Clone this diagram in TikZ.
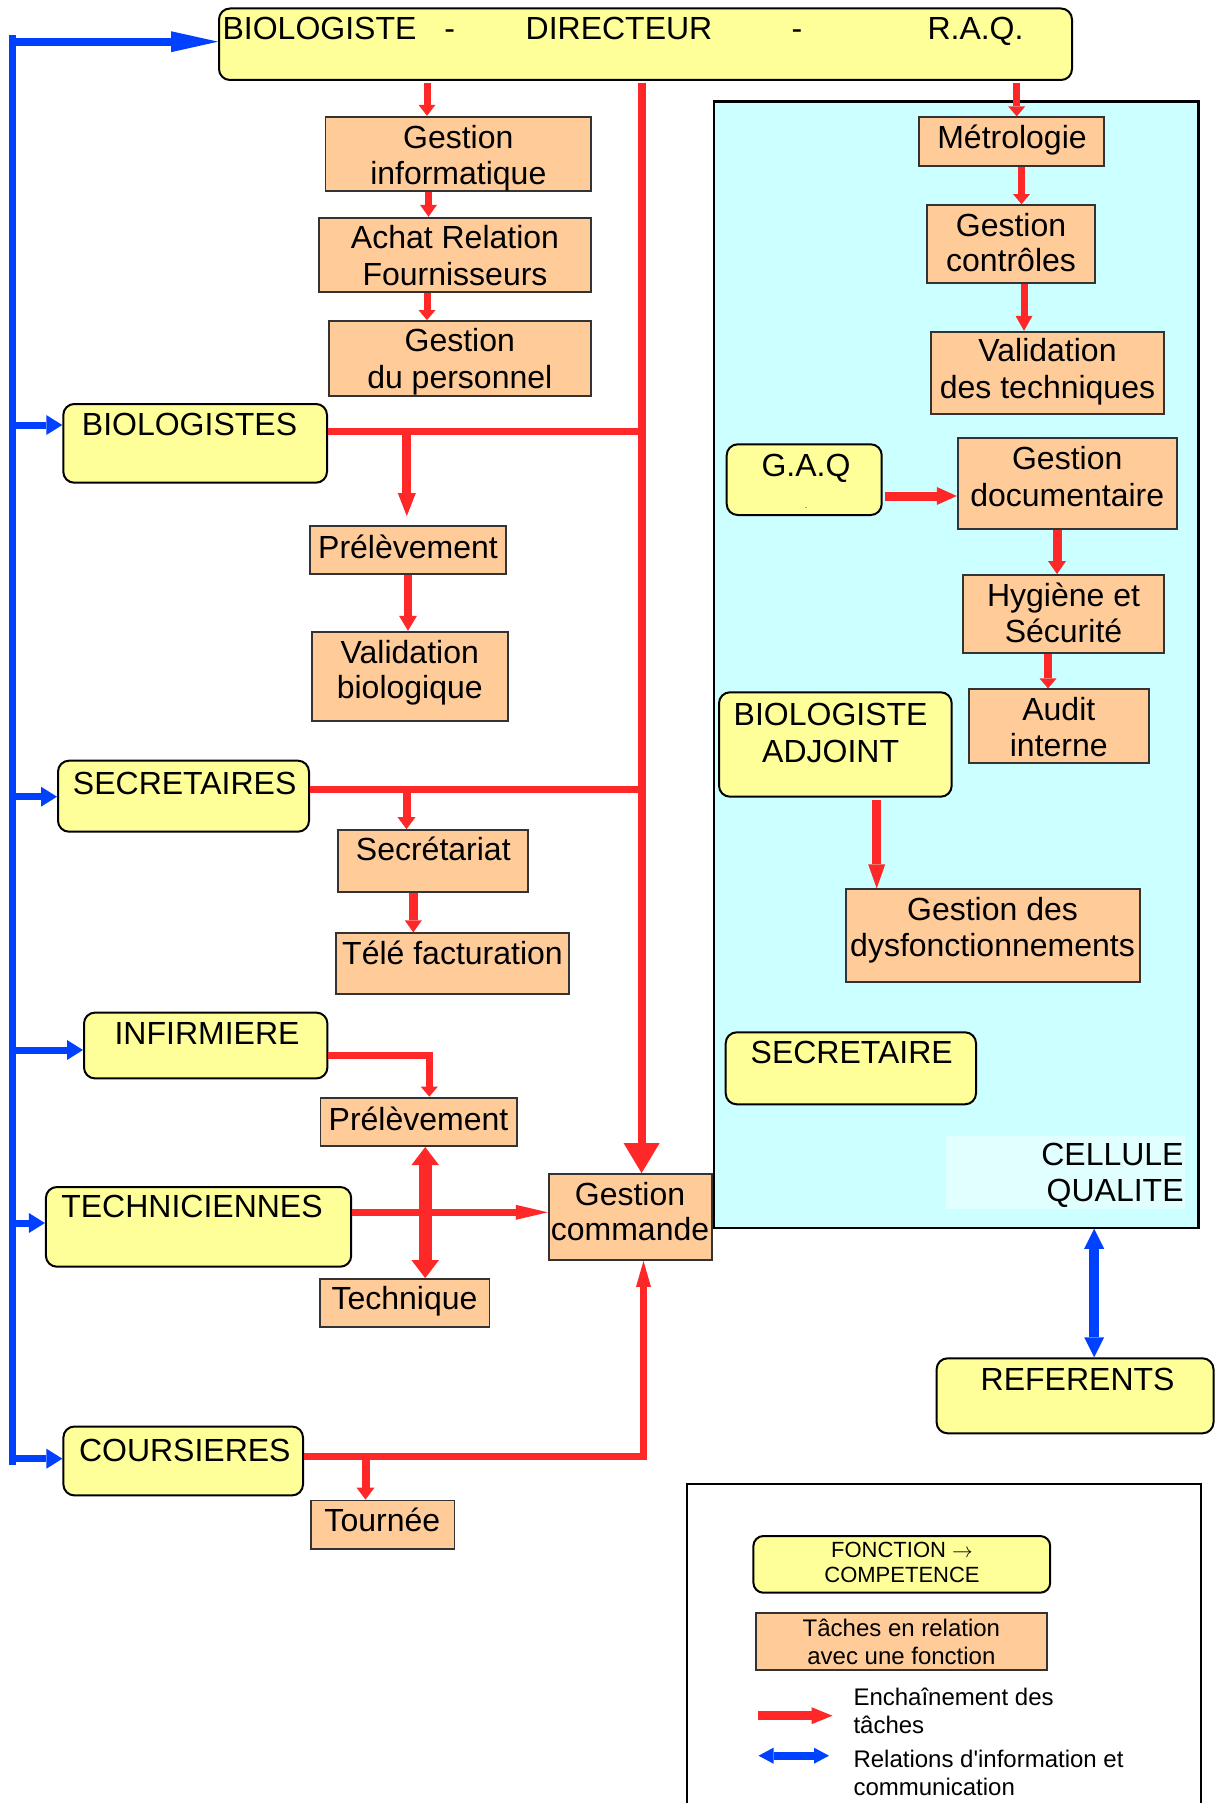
\documentclass[tikz,border=0pt]{standalone}
\usepackage{fontspec}
\setmainfont{Liberation Sans}
\usetikzlibrary{arrows.meta,fit}
\definecolor{yel}{RGB}{255,255,153}
\definecolor{ora}{RGB}{255,204,153}
\definecolor{cya}{RGB}{204,255,255}
\definecolor{cyl}{RGB}{226,255,255}
\definecolor{rd}{RGB}{255,40,40}
\definecolor{bl}{RGB}{0,64,255}
\newcommand\FontMain{\fontsize{32}{36.7}\selectfont}
\newcommand\FontLegY{\fontsize{22}{25}\selectfont}
\newcommand\FontLegO{\fontsize{24}{27.6}\selectfont}
\newcommand\FontLegT{\fontsize{24}{28}\selectfont}
\tikzset{
  ybox/.style={draw=black, line width=2pt, fill=yel, rounded corners=11pt, inner sep=0pt},
  obox/.style={draw=black!80, line width=1.8pt, fill=ora, inner sep=0pt},
  lab/.style={inner sep=0pt, outer sep=0pt, align=center, font=\FontMain, anchor=base},
  redln/.style={color=rd, line width=7pt},
  redar/.style 2 args={color=rd, line width=7pt, -{Triangle[width=#1,length=#2,line width=0pt]}},
  redbi/.style 2 args={color=rd, line width=7pt, {Triangle[width=#1,length=#2,line width=0pt]}-{Triangle[width=#1,length=#2,line width=0pt]}},
  bluar/.style 2 args={color=bl, line width=7pt, -{Triangle[width=#1,length=#2,line width=0pt]}},
  blubi/.style 2 args={color=bl, line width=7pt, {Triangle[width=#1,length=#2,line width=0pt]}-{Triangle[width=#1,length=#2,line width=0pt]}},
}
\begin{document}
\begin{tikzpicture}[x=1pt,y=-1pt]
\useasboundingbox (0,0) rectangle (1215,1803);
% quality cell background
\node[draw=black, line width=2.2pt, fill=cya, inner sep=0pt, fit={(714,101.5) (1198.5,1227.7)}] (cq) {};
\node[fill=cyl, inner sep=0pt, fit={(946,1136) (1185,1209.3)}] (cellbg) {};
% legend frame
\draw[line width=2pt] (686.8,1803) -- (686.8,1484) -- (1201.3,1484) -- (1201.3,1803);

% yellow boxes
\node[ybox, fit={(219,8.5) (1072,80)}] (top) {};
\node[ybox, fit={(63.3,404) (327,482.7)}] (bio) {};
\node[ybox, fit={(58,760.7) (309,831.7)}] (secs) {};
\node[ybox, fit={(84,1012.6) (327.4,1078.4)}] (inf) {};
\node[ybox, fit={(45.9,1187) (351.2,1266.7)}] (tech) {};
\node[ybox, fit={(63.4,1426.5) (303,1495.4)}] (cour) {};
\node[ybox, fit={(726.7,444.3) (881.7,515)}] (gaq) {};
\node[ybox, fit={(719,692.3) (951.7,796.7)}] (bioadj) {};
\node[ybox, fit={(725.7,1032.3) (976,1104.3)}] (secq) {};
\node[ybox, fit={(936.6,1358.3) (1213.5,1433.3)}] (ref) {};
\node[ybox, rounded corners=10pt, fit={(753.4,1536) (1050.2,1592.7)}] (lyel) {};

% orange boxes
\node[obox, fit={(325.5,116.7) (591,191)}] (gi) {};
\node[obox, fit={(319,217.7) (591,292.3)}] (achat) {};
\node[obox, fit={(328.6,321) (591,395.7)}] (gp) {};
\node[obox, fit={(310,526) (506,574)}] (pre1) {};
\node[obox, fit={(312,631.7) (507.6,720.7)}] (valb) {};
\node[obox, fit={(338.3,830) (528.3,891.7)}] (secr) {};
\node[obox, fit={(336,933.3) (568.7,994.3)}] (tele) {};
\node[obox, fit={(320.5,1097.6) (517,1146.1)}] (pre2) {};
\node[obox, fit={(319.6,1279) (489.4,1326.6)}] (techq) {};
\node[obox, fit={(548.7,1174) (711.7,1260)}] (gc) {};
\node[obox, fit={(310.8,1500.5) (454.5,1548.6)}] (tour) {};
\node[obox, fit={(919,117.3) (1104.3,166)}] (metro) {};
\node[obox, fit={(927,205) (1095,283.3)}] (gctl) {};
\node[obox, fit={(931,331.7) (1164.3,414.3)}] (valt) {};
\node[obox, fit={(957.7,438.3) (1176.7,528.7)}] (gd) {};
\node[obox, fit={(962.7,575) (1164.3,652.7)}] (hyg) {};
\node[obox, fit={(968.7,689.3) (1149,762.7)}] (audit) {};
\node[obox, fit={(845.7,889.3) (1140,981.7)}] (gdys) {};
\node[obox, fit={(756,1612.7) (1046.8,1670)}] (lora) {};

% texts (multi-line nodes: anchor base = last line baseline)
\node[lab] (t-bio) at (319.5,40) {BIOLOGISTE};
\node[lab] (t-d1) at (449.8,40) {-};
\node[lab] (t-dir) at (619,40) {DIRECTEUR};
\node[lab] (t-d2) at (797,40) {-};
\node[lab] (t-raq) at (975.5,40) {R.A.Q.};
\node[lab] (gi-t) at (458.3,184.8) {Gestion\\informatique};
\node[lab] (achat-t) at (455,285) {Achat Relation\\Fournisseurs};
\node[lab] (gp-t) at (459.8,388.5) {Gestion\\du personnel};
\node[lab] (bio-t) at (189.5,435) {BIOLOGISTES};
\node[lab] (pre1-t) at (408,558.5) {Prélèvement};
\node[lab, font=\fontsize{32}{35.5}\selectfont] (valb-t) at (409.8,698.5) {Validation\\biologique};
\node[lab] (secs-t) at (184.7,794) {SECRETAIRES};
\node[lab] (secr-t) at (433.3,860.7) {Secrétariat};
\node[lab] (tele-t) at (452.5,964) {Télé facturation};
\node[lab] (inf-t) at (207,1044) {INFIRMIERE};
\node[lab] (pre2-t) at (418.5,1130) {Prélèvement};
\node[lab] (tech-t) at (192,1217) {TECHNICIENNES};
\node[lab] (techq-t) at (404.5,1309) {Technique};
\node[lab, font=\fontsize{32}{35}\selectfont] (gc-t) at (630,1240.8) {Gestion\\commande};
\node[lab] (cour-t) at (184.8,1461.7) {COURSIERES};
\node[lab] (tour-t) at (382.3,1531) {Tournée};
\node[lab] (metro-t) at (1012,148.3) {Métrologie};
\node[lab, font=\fontsize{32}{35}\selectfont] (gctl-t) at (1011,271.7) {Gestion\\contrôles};
\node[lab] (valt-t) at (1047.5,398.3) {Validation\\des techniques};
\node[lab] (gaq-t) at (806,476.7) {G.A.Q};
\node[inner sep=0pt, font=\fontsize{6}{7}\selectfont] (gaq-d) at (806,509) {-};
\node[lab] (gd-t) at (1067.2,506) {Gestion\\documentaire};
\node[lab] (hyg-t) at (1063.5,642.7) {Hygiène et\\Sécurité};
\node[lab] (audit-t) at (1058.8,756.7) {Audit\\interne};
\node[lab, font=\fontsize{32}{37.7}\selectfont] (bioadj-t) at (830.6,762.7) {BIOLOGISTE\\ADJOINT};
\node[lab, font=\fontsize{32}{36}\selectfont] (gdys-t) at (992.5,956.7) {Gestion des\\dysfonctionnements};
\node[lab] (secq-t) at (851.7,1063.3) {SECRETAIRE};
\node[lab, align=right, anchor=base east] (cell-t) at (1183.6,1201.7) {CELLULE\\QUALITE};
\node[lab] (ref-t) at (1077.6,1390) {REFERENTS};
\node[lab, font=\FontLegY] (lyel-t) at (902,1582.3) {FONCTION $\rightarrow$\\COMPETENCE};
\node[lab, font=\FontLegO] (lora-t) at (901.4,1664.3) {Tâches en relation\\avec une fonction};
\node[lab, align=left, anchor=base west, font=\FontLegT] (lt1) at (853.5,1733.3) {Enchaînement des\\tâches};
\node[lab, align=left, anchor=base west, font=\FontLegT] (lt2) at (853.5,1795) {Relations d\textquotesingle information et\\communication};

% red connectors
\coordinate (busR) at (641.6,82.7);
\draw[redar={36pt}{30pt}, line width=8pt] (busR) -- (busR |- gc.north);
\coordinate (x1) at (427,82.7);
\draw[redar={17pt}{11pt}] (x1) -- (x1 |- gi.north);
\coordinate (x2) at (428.5,0);
\draw[redar={17pt}{12pt}] (x2 |- gi.south) -- (x2 |- achat.north);
\coordinate (x3) at (427,0);
\draw[redar={17pt}{10pt}] (x3 |- achat.south) -- (x3 |- gp.north);

\coordinate (bioR) at (0,431.7);
\draw[redln] (bioR -| bio.east) -- (bioR -| busR);
\coordinate (x4) at (406.8,431.7);
\draw[redar={18pt}{23pt}, line width=9pt, shorten >=9pt] (x4) -- (x4 |- pre1.north);
\draw[redar={18pt}{15pt}, line width=8pt] (pre1.south) -- (pre1.south |- valb.north);

\coordinate (secR) at (0,789.3);
\draw[redln] (secR -| secs.east) -- (secR -| busR);
\coordinate (x5) at (406.5,789.3);
\draw[redar={18pt}{12pt}, line width=8pt] (x5) -- (x5 |- secr.north);
\coordinate (x6) at (413.3,0);
\draw[redar={17pt}{12pt}, line width=8.5pt] (x6 |- secr.south) -- (x6 |- tele.north);

\coordinate (infR) at (0,1055.8);
\coordinate (x7) at (429.3,0);
\draw[redar={17pt}{10pt}] (infR -| inf.east) -| (x7 |- pre2.north);
\coordinate (x8) at (425.2,0);
\draw[redbi={27.5pt}{18pt}, line width=13pt] (x8 |- pre2.south) -- (x8 |- techq.north);
\coordinate (techR) at (0,1212.3);
\draw[redar={15pt}{32pt}] (techR -| tech.east) -- (techR -| gc.west);

\coordinate (courR) at (0,1456.5);
\coordinate (x9) at (643.5,0);
\draw[redar={15pt}{26pt}] (courR -| cour.east) -| (x9 |- gc.south);
\coordinate (x10) at (365.5,0);
\draw[redar={18pt}{12pt}, line width=8pt] (x10 |- courR) -- (x10 |- tour.north);

\coordinate (x11) at (1016.7,82.7);
\draw[redar={17pt}{10pt}] (x11) -- (x11 |- metro.north);
\coordinate (x12) at (1021.5,0);
\draw[redar={17pt}{10pt}] (x12 |- metro.south) -- (x12 |- gctl.north);
\coordinate (x13) at (1024,0);
\draw[redar={17pt}{15pt}] (x13 |- gctl.south) -- (x13 |- valt.north);
\coordinate (gaqR) at (0,496);
\draw[redar={18pt}{20pt}, line width=9pt] ([xshift=2pt]gaqR -| gaq.east) -- (gaqR -| gd.west);
\coordinate (x14) at (1057,0);
\draw[redar={18pt}{13pt}, line width=9pt] (x14 |- gd.south) -- (x14 |- hyg.north);
\coordinate (x15) at (1048,0);
\draw[redar={17pt}{10pt}, line width=8pt] (x15 |- hyg.south) -- (x15 |- audit.north);
\coordinate (x16) at (876.7,0);
\draw[redar={17pt}{24pt}, line width=9pt] ([yshift=-2pt]x16 |- bioadj.south) -- (x16 |- gdys.north);

% blue connectors
\coordinate (bbT) at (12,35);
\coordinate (bbB) at (12,1464.6);
\draw[color=bl, line width=7pt] (bbT) -- (bbB);
\coordinate (bt) at (12,41.7);
\draw[bluar={21pt}{47pt}, line width=8.3pt] (bt) -- (bt -| top.west);
\coordinate (bb1) at (12,425);
\draw[bluar={20pt}{16pt}] (bb1) -- (bb1 -| bio.west);
\coordinate (bb2) at (12,796.7);
\draw[bluar={20pt}{16pt}] (bb2) -- (bb2 -| secs.west);
\coordinate (bb3) at (12,1050);
\draw[bluar={20pt}{16pt}] (bb3) -- (bb3 -| inf.west);
\coordinate (bb4) at (12,1223);
\draw[bluar={20pt}{16pt}] (bb4) -- (bb4 -| tech.west);
\coordinate (bb5) at (12,1458.7);
\draw[bluar={20pt}{16pt}] (bb5) -- (bb5 -| cour.west);
\coordinate (x17) at (1094.2,0);
\draw[blubi={20pt}{20pt}, line width=9.5pt] (x17 |- cq.south) -- (x17 |- ref.north);

% legend arrows
\coordinate (lr1) at (757.8,1715.7);
\coordinate (lr2) at (832.5,1715.7);
\draw[redar={17pt}{21pt}, line width=9pt] (lr1) -- (lr2);
\coordinate (lb1) at (758.5,1755.7);
\coordinate (lb2) at (829,1755.7);
\draw[blubi={16pt}{15pt}, line width=8pt] (lb1) -- (lb2);
\end{tikzpicture}
\end{document}
